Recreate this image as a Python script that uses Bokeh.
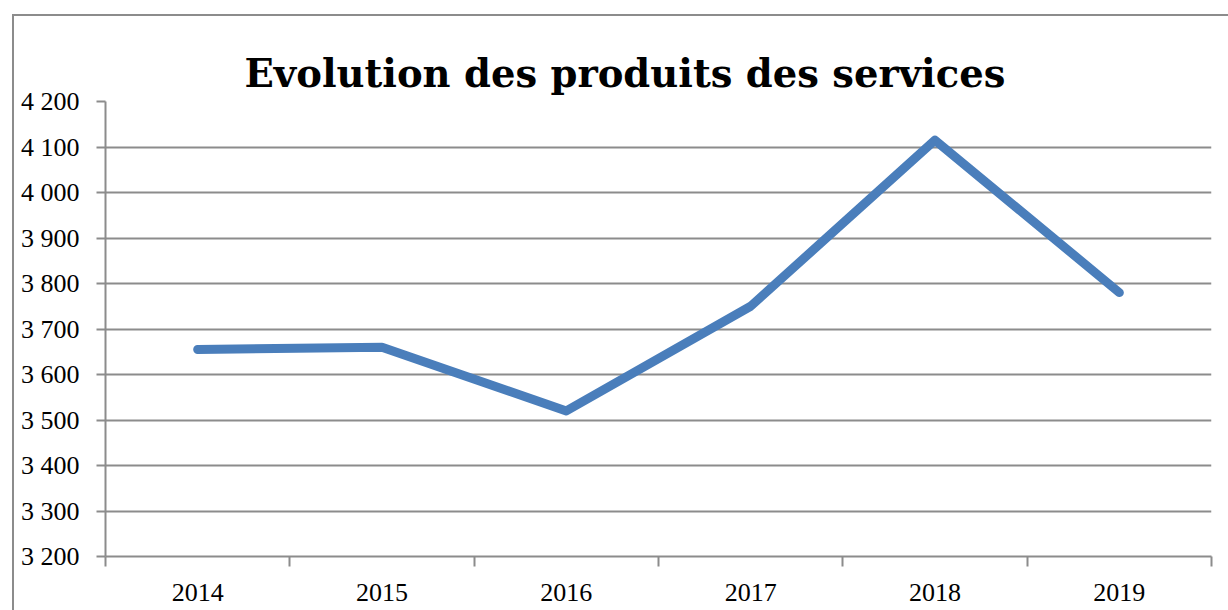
from bokeh.plotting import figure
from bokeh.models import Range1d, FixedTicker, Title
from bokeh.embed import file_html
from bokeh.resources import INLINE

years = ["2014", "2015", "2016", "2017", "2018", "2019"]
values = [3655, 3660, 3520, 3750, 4115, 3780]
y_ticks = [3200, 3300, 3400, 3500, 3600, 3700, 3800, 3900, 4000, 4100, 4200]
y_tick_labels = ["3 200", "3 300", "3 400", "3 500", "3 600", "3 700",
                 "3 800", "3 900", "4 000", "4 100", "4 200"]
title_text = "Evolution des produits des services"

GRAY = "#8c8c8c"
BLUE = "#4a7ebb"

xs = [i + 0.5 for i in range(len(years))]

p = figure(width=1228, height=610, output_backend="svg", toolbar_location=None,
           x_range=Range1d(0, len(years)), y_range=Range1d(y_ticks[0], y_ticks[-1]),
           min_border_left=105, min_border_right=17, min_border_bottom=54, min_border_top=101)
# chart-area frame (left and top edges, the rest runs off the window)
p.styles = {"background": (f"linear-gradient({GRAY},{GRAY}) 12px 14px / 2px 100% no-repeat, "
                           f"linear-gradient({GRAY},{GRAY}) 12px 14px / 100% 2px no-repeat, white")}
p.title = None
p.add_layout(Title(text=title_text, align="left", text_font="DejaVu Serif",
                   text_font_style="bold", text_font_size="38.5px", text_color="black",
                   offset=139, standoff=11), "above")

p.outline_line_color = None
p.background_fill_color = "white"
p.border_fill_color = None

p.line(xs, values, line_width=9, line_color=BLUE, line_cap="round", line_join="round")

# y axis
p.yaxis.ticker = FixedTicker(ticks=y_ticks)
p.yaxis.major_label_overrides = {t: l for t, l in zip(y_ticks, y_tick_labels)}
p.yaxis.axis_line_color = GRAY
p.yaxis.axis_line_width = 2
p.yaxis.major_tick_line_color = GRAY
p.yaxis.major_tick_line_width = 2
p.yaxis.major_tick_out = 9
p.yaxis.major_tick_in = 0
p.yaxis.minor_tick_line_color = None
p.yaxis.major_label_standoff = 17
p.yaxis.major_label_text_font = "Liberation Serif"
p.yaxis.major_label_text_font_size = "26px"
p.yaxis.major_label_text_color = "black"

# x axis
p.xaxis.ticker = FixedTicker(ticks=xs, minor_ticks=list(range(len(years) + 1)))
p.xaxis.major_label_overrides = {x: y for x, y in zip(xs, years)}
p.xaxis.axis_line_color = GRAY
p.xaxis.axis_line_width = 2
p.xaxis.major_tick_line_color = None
p.xaxis.major_tick_out = 0
p.xaxis.major_tick_in = 0
p.xaxis.minor_tick_line_color = GRAY
p.xaxis.minor_tick_line_width = 2
p.xaxis.minor_tick_out = 10
p.xaxis.minor_tick_in = 0
p.xaxis.major_label_standoff = 17
p.xaxis.major_label_text_font = "Liberation Serif"
p.xaxis.major_label_text_font_size = "26px"
p.xaxis.major_label_text_color = "black"

# grid
p.xgrid.grid_line_color = None
p.ygrid.ticker = FixedTicker(ticks=y_ticks)
p.ygrid.grid_line_color = GRAY
p.ygrid.grid_line_width = 2

open("out.html", "w").write(file_html(p, INLINE))
